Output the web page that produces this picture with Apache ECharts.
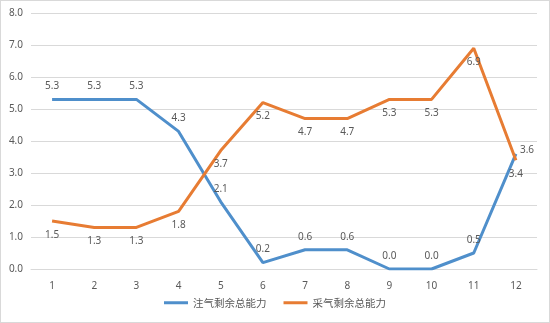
<!DOCTYPE html>
<html><head><meta charset="utf-8">
<script src="https://cdn.jsdelivr.net/npm/echarts@6/dist/echarts.min.js"></script>
<style>
html,body{margin:0;padding:0;background:#fff;}
#c{width:548px;height:321px;border:1px solid #d9d9d9;}
</style></head>
<body><div id="c"></div>
<script>
const categories = ['1','2','3','4','5','6','7','8','9','10','11','12'];
const injectName = '注气剩余总能力';
const produceName = '采气剩余总能力';
const injectValues = [5.3,5.3,5.3,4.3,2.1,0.2,0.6,0.6,0.0,0.0,0.5,3.6];
const produceValues = [1.5,1.3,1.3,1.8,3.7,5.2,4.7,4.7,5.3,5.3,6.9,3.4];

const font = '"Noto Sans", "Noto Sans CJK SC", sans-serif';
const blue = '#4F8FCB';
const orange = '#E77C33';
const chart = echarts.init(document.getElementById('c'));
const injectData = injectValues.map((v,i)=> i===injectValues.length-1 ? {value:v,label:{position:'right',offset:[-4,-4]}} : v);
chart.setOption({
  animation:false,
  grid:{left:30,right:12,top:12,bottom:53},
  legend:{bottom:9,left:'center',itemWidth:24,itemHeight:3,itemGap:17,icon:'rect',
    textStyle:{color:'#595959',fontSize:10.5,fontFamily:'"Noto Sans CJK SC", sans-serif'},
    data:[injectName,produceName]},
  xAxis:{type:'category',data:categories,boundaryGap:true,
    axisLine:{lineStyle:{color:'#d9d9d9'}},axisTick:{show:false},
    axisLabel:{color:'#595959',fontSize:10,fontFamily:font,margin:12}},
  yAxis:{type:'value',min:0,max:8,interval:1,
    axisLabel:{color:'#595959',fontSize:10,fontFamily:font,formatter:v=>v.toFixed(1),margin:8},
    splitLine:{lineStyle:{color:'#d9d9d9'}}},
  series:[
    {name:injectName,type:'line',data:injectData,symbol:'circle',symbolSize:0.1,
     lineStyle:{width:3,color:blue},itemStyle:{color:blue},
     label:{show:true,position:'top',distance:8,color:'#595959',fontSize:10,fontFamily:font,formatter:p=>p.value.toFixed(1)}},
    {name:produceName,type:'line',data:produceValues,symbol:'circle',symbolSize:0.1,
     lineStyle:{width:3,color:orange},itemStyle:{color:orange},
     label:{show:true,position:'bottom',distance:9,color:'#595959',fontSize:10,fontFamily:font,formatter:p=>p.value.toFixed(1)}}
  ]
});
</script></body></html>
